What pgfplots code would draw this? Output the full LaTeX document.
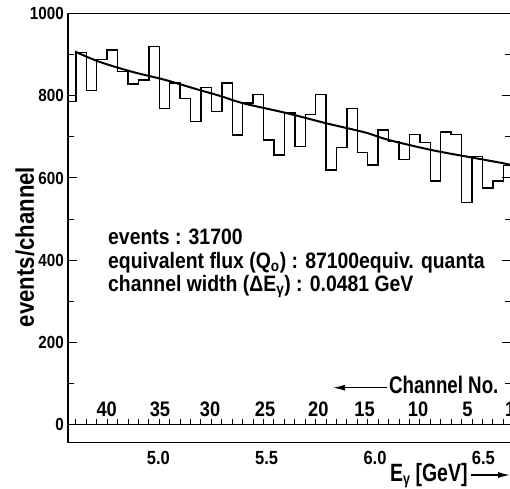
\documentclass[border=0pt]{standalone}
\usepackage{fontspec}
\setmainfont{Liberation Sans}[UprightFont={* Bold}, FakeStretch=0.87]
\newfontfamily\narrowfont{Liberation Sans}[UprightFont={* Bold}, FakeStretch=0.78]
\usepackage{pgfplots}
\pgfplotsset{compat=1.18}
\usetikzlibrary{arrows.meta}
\begin{document}
\begin{tikzpicture}
\begin{axis}[
  name=ax, at={(0,0)}, anchor=south west,
  scale only axis, width=443pt, height=429pt,
  xmin=4.5833, xmax=6.6276, ymin=-44.3, ymax=1000.7,
  axis line style={line width=1.4pt},
  tick align=inside,
  xtick pos=bottom, ytick pos=both,
  xtick={5.0,5.5,6.0,6.5},
  xticklabels={5.0,5.5,6.0,6.5},
  xtick style={draw=none},
  minor xtick={4.6,4.7,4.8,4.9,5.0,5.1,5.2,5.3,5.4,5.5,5.6,5.7,5.8,5.9,6.0,6.1,6.2,6.3,6.4,6.5,6.6},
  ytick={0,200,400,600,800,1000},
  yticklabels={0,200,400,600,800,1000},
  minor ytick={100,300,500,700,900},
  major tick length=9pt, minor tick length=6pt,
  every tick/.style={line width=1pt, black},
  xticklabel style={font=\fontsize{19}{19}\selectfont, anchor=north, inner sep=0pt, yshift=-9pt},
  yticklabel style={font=\fontsize{17.5}{17.5}\selectfont, anchor=east, inner sep=0pt, xshift=-4pt},
]
% histogram (left bin edges, counts)
\addplot[const plot mark left, line width=1.4pt, black, mark=none] coordinates {
(4.5717,787) (4.6198,906) (4.6679,813) (4.7160,888) (4.7641,912)
(4.8122,859) (4.8603,829) (4.9084,839) (4.9565,920) (5.0046,770)
(5.0527,831) (5.1008,794) (5.1489,737) (5.1970,820) (5.2451,762)
(5.2932,831) (5.3413,705) (5.3894,783) (5.4375,804) (5.4856,693)
(5.5337,656) (5.5818,758) (5.6299,676) (5.6780,755) (5.7261,804)
(5.7742,619) (5.8223,674) (5.8704,769) (5.9185,662) (5.9666,632)
(6.0147,717) (6.0628,689) (6.1109,645) (6.1590,706) (6.2071,686)
(6.2552,593) (6.3033,712) (6.3514,706) (6.3995,541) (6.4476,653)
(6.4957,576) (6.5438,593) (6.5919,631) (6.6400,631)};
% fitted curve
\addplot[smooth, line width=2pt, black, mark=none] coordinates {
(4.616,908) (4.723,884) (4.877,859) (5.031,839) (5.185,815) (5.285,800)
(5.392,782) (5.593,758) (5.777,733) (5.954,711) (6.061,693) (6.262,668)
(6.446,650) (6.591,636) (6.640,630)};
% zero line with channel ticks
\addplot[line width=1.4pt, black, mark=none] coordinates {(4.5,0) (6.7,0)};
\addplot[ycomb, line width=1pt, black, mark=none] coordinates {
(4.6198,14) (4.6679,14) (4.7160,14) (4.7641,14) (4.8122,14) (4.8603,14)
(4.9084,14) (4.9565,14) (5.0046,14) (5.0527,14) (5.1008,14) (5.1489,14)
(5.1970,14) (5.2451,14) (5.2932,14) (5.3413,14) (5.3894,14) (5.4375,14)
(5.4856,14) (5.5337,14) (5.5818,14) (5.6299,14) (5.6780,14) (5.7261,14)
(5.7742,14) (5.8223,14) (5.8704,14) (5.9185,14) (5.9666,14) (6.0147,14)
(6.0628,14) (6.1109,14) (6.1590,14) (6.2071,14) (6.2552,14) (6.3033,14)
(6.3514,14) (6.3995,14) (6.4476,14) (6.4957,14) (6.5438,14) (6.5919,14)};
\end{axis}
% y label
\node[rotate=90, font=\fontsize{25.5}{25.5}\selectfont] at (-43pt,195.5pt) {events/channel};
% annotation block
\begin{scope}[every node/.style={anchor=base west, inner sep=0pt, font=\fontsize{22.3}{22.3}\selectfont}]
\node at (40pt,198.5pt) {events : 31700};
\node at (40pt,174.5pt) {equivalent flux (Q\textsubscript{o}) : 87100equiv. quanta};
\node at (40pt,151.5pt) {channel width (ΔE\textsubscript{γ}) : 0.0481 GeV};
\end{scope}
% channel numbers
\begin{scope}[every node/.style={anchor=center, inner sep=0pt, font=\fontsize{21}{21}\selectfont}]
\node at (38.7pt,33.5pt) {40};
\node at (92pt,33.5pt) {35};
\node at (142pt,33.5pt) {30};
\node at (197pt,33.5pt) {25};
\node at (250.3pt,33.5pt) {20};
\node at (296.5pt,33.5pt) {15};
\node at (350pt,33.5pt) {10};
\node at (399.5pt,33.5pt) {5};
\node[anchor=west] at (437pt,33.5pt) {1};
\end{scope}
% Channel No. with arrow
\draw[line width=1.3pt, -{Latex[length=12pt,width=6pt]}] (319pt,54.8pt) -- (265pt,54.8pt);
\node[anchor=base west, inner sep=0pt, font=\narrowfont\fontsize{24}{24}\selectfont] at (321pt,49.2pt) {Channel No.};
% E_gamma label with arrow
\node[anchor=base west, inner sep=0pt, font=\narrowfont\fontsize{25}{25}\selectfont] at (322pt,-38.5pt) {E\raisebox{-0.12em}{\fontsize{16}{16}\selectfont γ} [GeV]};
\draw[line width=1.3pt, -{Latex[length=12pt,width=6pt]}] (403pt,-32.5pt) -- (442pt,-32.5pt);
\pgfresetboundingbox
\useasboundingbox (-68pt,-45.5pt) rectangle (442pt,442.5pt);
\end{tikzpicture}
\end{document}
